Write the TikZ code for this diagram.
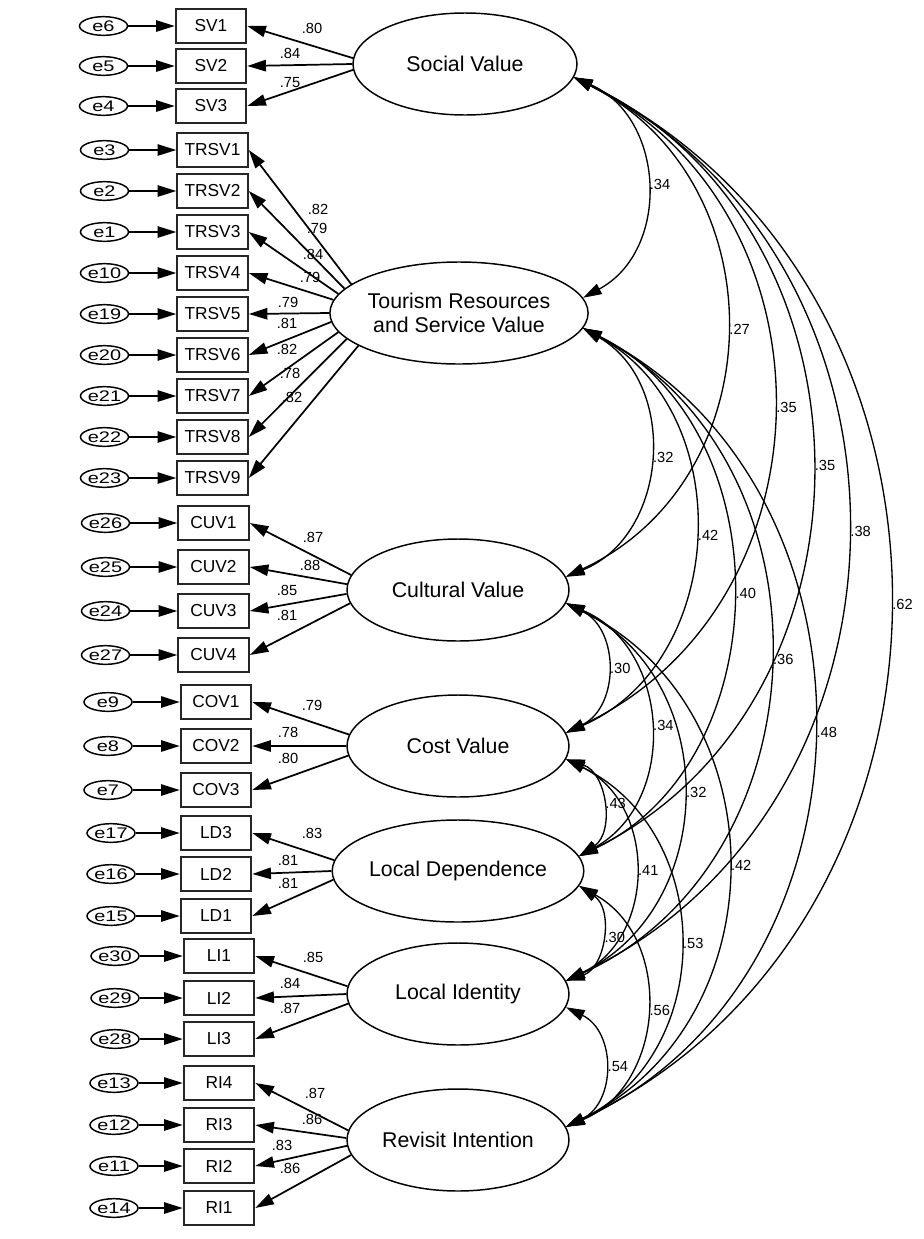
\documentclass[tikz,border=0pt]{standalone}
\usepackage{fontspec}
\setmainfont{Liberation Sans}
\newfontfamily\efont[FakeStretch=1.3]{Liberation Sans}
\usetikzlibrary{shapes.geometric,arrows.meta}

\begin{document}
\begin{tikzpicture}[x=0.75pt,y=-0.75pt,
  >={Triangle[length=14pt,width=8.5pt]},
  lat/.style={ellipse,draw,line width=1.1pt,minimum width=166.5pt,minimum height=76.5pt,
              inner sep=0pt,align=center,font=\fontsize{16}{18}\selectfont},
  obs/.style={rectangle,draw=black!85,line width=1.4pt,minimum width=53pt,minimum height=25.5pt,
              inner sep=0pt,font=\fontsize{13}{15}\selectfont},
  err/.style={ellipse,draw,line width=1.1pt,minimum width=36pt,minimum height=14pt,
              inner sep=0pt,font=\efont\fontsize{11.5}{13}\selectfont},
  coef/.style={inner sep=0pt,font=\fontsize{11}{13}\selectfont},
  earrow/.style={->,line width=1.3pt},
  load/.style={->,line width=1.3pt},
  cov/.style={<->,line width=1pt,bend left=64}
]
\useasboundingbox (0,0) rectangle (924,1239);

% latent variables
\node[lat,minimum width=168pt] (SV) at (465,64) {Social Value};
\node[lat] (TR) at (459,313) {Tourism Resources\\and Service Value};
\node[lat] (CU) at (458,590) {Cultural Value};
\node[lat] (CO) at (458,746) {Cost Value};
\node[lat] (LD) at (458,871) {Local Dependence};
\node[lat] (LI) at (458,994) {Local Identity};
\node[lat] (RI) at (458,1140) {Revisit Intention};

% indicators with their error terms
\foreach \e/\b/\y in {e6/SV1/26,e5/SV2/66,e4/SV3/106}{
  \node[err] (\e) at (103.5,\y) {\e};
  \node[obs] (\b) at (211,\y) {\b};
  \draw[earrow] (\e) -- (\b);}
\foreach \e/\b/\y in {e3/TRSV1/150,e2/TRSV2/191,e1/TRSV3/232,e10/TRSV4/273,e19/TRSV5/314,
                      e20/TRSV6/355,e21/TRSV7/396,e22/TRSV8/437,e23/TRSV9/478}{
  \node[err] (\e) at (104.5,\y) {\e};
  \node[obs] (\b) at (212.5,\y) {\b};
  \draw[earrow] (\e) -- (\b);}
\foreach \e/\b/\y in {e26/CUV1/523,e25/CUV2/567,e24/CUV3/611,e27/CUV4/655}{
  \node[err] (\e) at (105.5,\y) {\e};
  \node[obs] (\b) at (213.5,\y) {\b};
  \draw[earrow] (\e) -- (\b);}
\foreach \e/\b/\y in {e9/COV1/702,e8/COV2/746,e7/COV3/790}{
  \node[err] (\e) at (108,\y) {\e};
  \node[obs] (\b) at (216,\y) {\b};
  \draw[earrow] (\e) -- (\b);}
\foreach \e/\b/\y in {e17/LD3/833,e16/LD2/874,e15/LD1/916}{
  \node[err] (\e) at (111,\y) {\e};
  \node[obs] (\b) at (216,\y) {\b};
  \draw[earrow] (\e) -- (\b);}
\foreach \e/\b/\y in {e30/LI1/956,e29/LI2/998,e28/LI3/1039}{
  \node[err] (\e) at (115,\y) {\e};
  \node[obs] (\b) at (219,\y) {\b};
  \draw[earrow] (\e) -- (\b);}
\foreach \e/\b/\y in {e13/RI4/1083,e12/RI3/1125,e11/RI2/1166,e14/RI1/1208}{
  \node[err] (\e) at (114,\y) {\e};
  \node[obs] (\b) at (219,\y) {\b};
  \draw[earrow] (\e) -- (\b);}

% factor loadings
\foreach \l/\b/\a/\v/\lx/\ly in {
   SV/SV1/177/.80/312/28, SV/SV2/180/.84/290/53, SV/SV3/183/.75/290/83,
   TR/TRSV1/165/.82/318/209, TR/TRSV2/168.3/.79/317/228, TR/TRSV3/171.4/.84/313/254,
   TR/TRSV4/174.7/.79/310/277, TR/TRSV5/180/.79/288/302, TR/TRSV6/184.7/.81/287/323,
   TR/TRSV7/189.2/.82/287/349, TR/TRSV8/193.8/.78/290/373, TR/TRSV9/198.5/.82/292/397,
   CU/CUV1/172.5/.87/313/537, CU/CUV2/177.4/.88/310/565, CU/CUV3/182.6/.85/287/590,
   CU/CUV4/187/.81/287/615,
   CO/COV1/174/.79/312/705, CO/COV2/180/.78/288/732, CO/COV3/185/.80/288/758,
   LD/LD3/175.5/.83/312/833, LD/LD2/180/.81/288/860, LD/LD1/184.5/.81/288/883,
   LI/LI1/176/.85/313/957, LI/LI2/180/.84/290/983, LI/LI3/185/.87/290/1008,
   RI/RI4/175.8/.87/315/1093, RI/RI3/179/.86/312/1119, RI/RI2/183/.83/282/1145,
   RI/RI1/188/.86/290/1168}{
  \draw[load] (\l.\a) -- (\b.east);
  \node[coef] (w\b) at (\lx,\ly) {\v};}

% correlations between latent variables
\foreach \p/\q/\v/\k in {SV/TR/.34/1.16,SV/CU/.27/1.18,SV/CO/.35/1.17,SV/LD/.35/1.14,
                      SV/LI/.38/1.16,SV/RI/.62/1.15,
                      TR/CU/.32/1.14,TR/CO/.42/1.12,TR/LD/.40/1.08,TR/LI/.36/1.13,TR/RI/.48/1.13,
                      CU/CO/.30/1.18,CU/LD/.34/1.15,CU/LI/.32/1.17,CU/RI/.42/1.17,
                      CO/LD/.43/1.13,CO/LI/.41/1.17,CO/RI/.53/1.17,
                      LD/LI/.30/1.12,LD/RI/.56/1.15,
                      LI/RI/.54/1.2}{
  \draw[cov,looseness=\k] (\p.-7) to node[coef,pos=0.5,anchor=west,xshift=2.5pt] (r\p\q) {\v} (\q.7);}
\end{tikzpicture}
\end{document}
